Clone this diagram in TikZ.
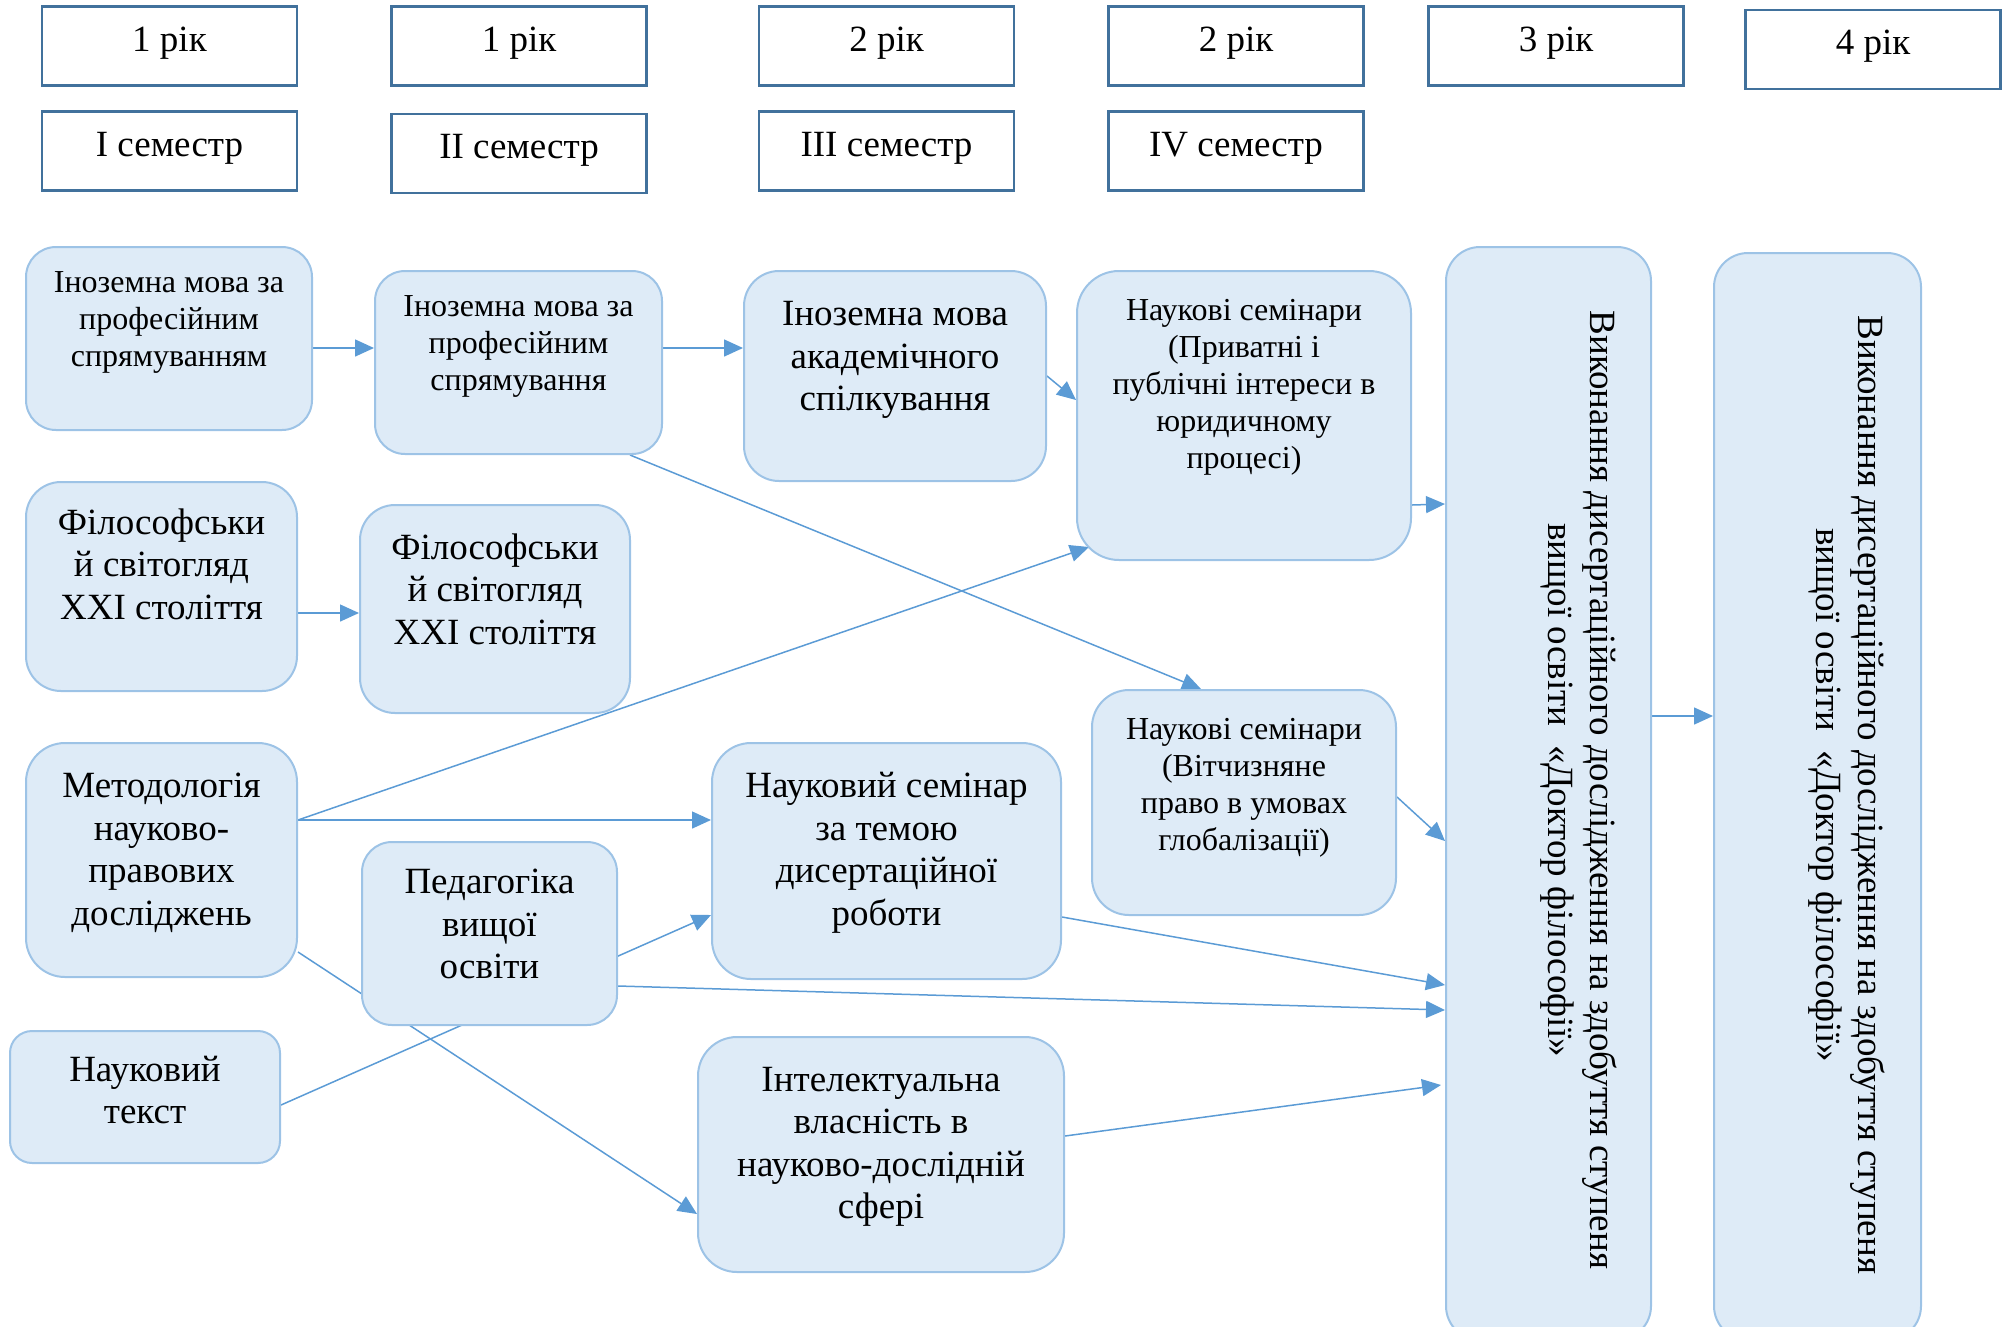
\documentclass[tikz,border=0pt]{standalone}
\usepackage{fontspec}
\setmainfont{Liberation Serif}
\usetikzlibrary{arrows.meta,calc}
\definecolor{boxfill}{HTML}{DEEBF7}
\definecolor{boxline}{HTML}{9DC3E6}
\definecolor{topline}{HTML}{41719C}
\definecolor{arrowc}{HTML}{5B9BD5}
\newcommand\fbig{\fontsize{37}{42.5}\selectfont}
\newcommand\fsmall{\fontsize{32}{37}\selectfont}
\pgfdeclarelayer{bg}
\pgfsetlayers{bg,main}
\tikzset{
  topbox/.style={draw=topline, line width=2.5pt, fill=white, minimum width=255pt, minimum height=79pt, inner sep=0pt},
  toptxt/.style={font=\fbig, inner sep=0pt},
  rbox/.style={draw=boxline, fill=boxfill, line width=2pt, rounded corners=#1, inner sep=0pt},
  btxt/.style={align=center, font=\fbig, inner sep=0pt},
  stxt/.style={align=center, font=\fsmall, inner sep=0pt},
  conn/.style={draw=arrowc, line width=1.5pt, -{Triangle[length=19pt,width=17pt]}},
}
\begin{document}
\begin{tikzpicture}[x=1pt,y=-1pt]
\useasboundingbox (0,0) rectangle (2015,1326);
\clip (0,0) rectangle (2015,1326);
% top row
\node[topbox] (Y1) at (169.5,46) {};
\node[topbox] (Y2) at (519,46) {};
\node[topbox] (Y3) at (886.5,46) {};
\node[topbox] (Y4) at (1236,46) {};
\node[topbox] (Y5) at (1556,46) {};
\node[topbox] (Y6) at (1873,49.5) {};
\node[topbox] (S1) at (169.5,151) {};
\node[topbox] (S2) at (519,153.5) {};
\node[topbox] (S3) at (886.5,151) {};
\node[topbox] (S4) at (1236,151) {};
\node[toptxt] (Y1t) at ([yshift=3pt]Y1.center) {1 рік};
\node[toptxt] (Y2t) at ([yshift=3pt]Y2.center) {1 рік};
\node[toptxt] (Y3t) at ([yshift=3pt]Y3.center) {2 рік};
\node[toptxt] (Y4t) at ([yshift=3pt]Y4.center) {2 рік};
\node[toptxt] (Y5t) at ([yshift=3pt]Y5.center) {3 рік};
\node[toptxt] (Y6t) at ([yshift=3pt]Y6.center) {4 рік};
\node[toptxt] (S1t) at ([yshift=3pt]S1.center) {I семестр};
\node[toptxt] (S2t) at ([yshift=3pt]S2.center) {II семестр};
\node[toptxt] (S3t) at ([yshift=3pt]S3.center) {III семестр};
\node[toptxt] (S4t) at ([yshift=3pt]S4.center) {IV семестр};
% boxes
\node[rbox=30pt, minimum width=286pt, minimum height=183pt] (A1) at (169,338.5) {};
\node[rbox=30pt, minimum width=287pt, minimum height=183pt] (A2) at (518.5,362.5) {};
\node[rbox=35pt, minimum width=302pt, minimum height=210pt] (A3) at (895,376) {};
\node[rbox=42pt, minimum width=334pt, minimum height=289pt] (A4) at (1244,415.5) {};
\node[rbox=35pt, minimum width=271pt, minimum height=209pt] (F1) at (161.5,586.5) {};
\node[rbox=35pt, minimum width=270pt, minimum height=208pt] (F2) at (495,609) {};
\node[rbox=39pt, minimum width=271pt, minimum height=234pt] (M) at (161.5,860) {};
\node[rbox=30pt, minimum width=255pt, minimum height=183pt] (P) at (489.5,933.5) {};
\node[rbox=22pt, minimum width=270pt, minimum height=132pt] (NT) at (145,1097) {};
\node[rbox=39pt, minimum width=349pt, minimum height=236pt] (NS) at (886.5,861) {};
\node[rbox=37pt, minimum width=304pt, minimum height=225pt] (NS2) at (1244,802.5) {};
\node[rbox=39pt, minimum width=366pt, minimum height=235pt] (IV) at (881,1154.5) {};
\node[rbox=34pt, minimum width=205pt, minimum height=1093pt] (T1) at (1548.5,793.5) {};
\node[rbox=34pt, minimum width=207pt, minimum height=1087pt] (T2) at (1817.5,796.5) {};
% texts
\node[stxt] (A1t) at (169,322.5) {Іноземна мова за\\професійним\\спрямуванням};
\node[stxt] (A2t) at (518.5,346.5) {Іноземна мова за\\професійним\\спрямування};
\node[btxt] (A3t) at (895,360) {Іноземна мова\\академічного\\спілкування};
\node[stxt] (A4t) at (1244,387.5) {Наукові семінари\\(Приватні і\\публічні інтереси в\\юридичному\\процесі)};
\node[btxt] (F1t) at (161.5,564) {Філософськи\\й світогляд\\XXI століття};
\node[btxt] (F2t) at (495,589) {Філософськи\\й світогляд\\XXI століття};
\node[btxt] (Mt) at (161.5,853) {Методологія\\науково-\\правових\\досліджень};
\node[btxt] (Pt) at (489.5,924) {Педагогіка\\вищої\\освіти};
\node[btxt] (NTt) at (145,1090) {Науковий\\текст};
\node[btxt] (NSt) at (886.5,853) {Науковий семінар\\за темою\\дисертаційної\\роботи};
\node[stxt] (NS2t) at (1244,788) {Наукові семінари\\(Вітчизняне\\право в умовах\\глобалізації)};
\node[btxt] (IVt) at (881,1147) {Інтелектуальна\\власність в\\науково-дослідній\\сфері};
\node[btxt, rotate=-90] (T1t) at (1579,790) {Виконання дисертаційного дослідження на здобуття ступеня\\вищої освіти \ «Доктор філософії»};
\node[btxt, rotate=-90] (T2t) at (1847,795) {Виконання дисертаційного дослідження на здобуття ступеня\\вищої освіти \ «Доктор філософії»};
% connectors
\begin{pgfonlayer}{bg}
\draw[conn] ([yshift=-9.5pt]A1.east) -- ([yshift=14.5pt]A2.west);
\draw[conn] ([yshift=14.5pt]A2.east) -- ([yshift=28pt]A3.west);
\draw[conn] (A3.east) -- ([yshift=15.5pt]A4.west);
\draw[conn] ([xshift=111.5pt]A2.south) -- ([xshift=-43pt]NS2.north);
\draw[conn] ([yshift=-26.5pt]F1.east) -- ([yshift=-4pt]F2.west);
\draw[conn] ([yshift=40pt]M.east) -- ([xshift=13pt,yshift=14pt]A4.south west);
\draw[conn] ([yshift=40pt]M.east) -- ([yshift=41pt]NS.west);
\draw[conn] ([yshift=-92pt]M.east) -- ([yshift=-59.5pt]IV.west);
\draw[conn] ([yshift=-8pt]NT.east) -- ([yshift=-54pt]NS.west);
\draw[conn] ([yshift=-52.5pt]P.east) -- ([yshift=-764pt]T1.north west);
\draw[conn] ([yshift=-56pt]NS.east) -- ([yshift=-739pt]T1.north west);
\draw[conn] ([yshift=5.5pt]NS2.east) -- ([yshift=-595pt]T1.north west);
\draw[conn] ([yshift=-89.5pt]A4.east) -- ([yshift=-258pt]T1.north west);
\draw[conn] ([yshift=18.5pt]IV.east) -- ([xshift=-4pt,yshift=-839pt]T1.north west);
\draw[conn] ([yshift=-470pt]T1.north east) -- ([yshift=-464pt]T2.north west);
\end{pgfonlayer}
\end{tikzpicture}
\end{document}
